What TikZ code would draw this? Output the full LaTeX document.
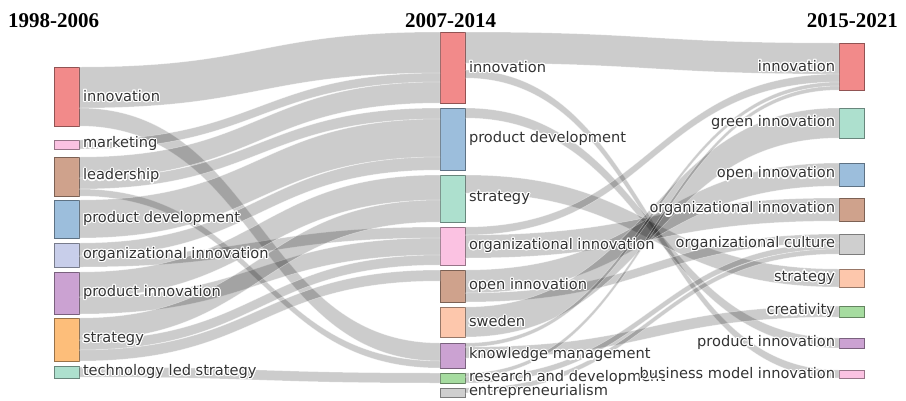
\documentclass[tikz,border=0pt]{standalone}
\usepackage{fontspec}
\setmainfont{DejaVu Sans}
\newfontfamily\titlefont{Liberation Serif}
\usepackage{contour}
\contourlength{1.1pt}
\usetikzlibrary{calc}

\definecolor{cred}{HTML}{F28A8A}
\definecolor{cpink}{HTML}{FBC2E2}
\definecolor{cbrown}{HTML}{CFA28C}
\definecolor{cblue}{HTML}{9CBEDC}
\definecolor{clav}{HTML}{C8CEEA}
\definecolor{cpurple}{HTML}{CBA2D2}
\definecolor{corange}{HTML}{FDBE7A}
\definecolor{cmint}{HTML}{ADE0CE}
\definecolor{cpeach}{HTML}{FDC7AC}
\definecolor{cgreen}{HTML}{A6DCA0}
\definecolor{cgray}{HTML}{CFCFCF}
\definecolor{labelgray}{HTML}{333333}

% a flow node: name, x centre, top, bottom, colour
\newcommand\flownode[5]{%
  \pgfmathsetmacro\hh{#4-#3}\pgfmathsetmacro\yc{(#3+#4)/2}%
  \node[box, fill=#5, draw=#5!60!black, minimum height=\hh pt] (#1) at (#2,\yc) {};}

% a flow band: source, source top/bottom offsets, target, target top/bottom offsets
\newcommand\band[6]{%
  \path[link] let \p1=($(#1.north east)+(0,#2)$), \p2=($(#1.north east)+(0,#3)$),
    \p3=($(#4.north west)+(0,#5)$), \p4=($(#4.north west)+(0,#6)$),
    \n1={0.5*(\x1+\x3)} in
    (\p1) .. controls (\n1,\y1) and (\n1,\y3) .. (\p3) -- (\p4)
    .. controls (\n1,\y4) and (\n1,\y2) .. (\p2) -- cycle;}

\newcommand\labelfont{\fontsize{14.6}{16}\selectfont}
\newcommand\halo[1]{\contour{white}{#1}}

\begin{document}
\begin{tikzpicture}[x=1pt,y=-1pt,
  box/.style={line width=0.8pt, inner sep=0pt, outer sep=0pt, minimum width=25pt},
  lbl/.style={inner sep=0pt, outer sep=0pt, text=labelgray, font=\labelfont},
  lleft/.style={lbl, anchor=west, xshift=4pt},
  lright/.style={lbl, anchor=east, xshift=-4pt},
  link/.style={fill=black, fill opacity=0.2, draw=white, draw opacity=0.45, line width=0.5pt},
  yr/.style={font=\titlefont\bfseries\fontsize{21}{24}\selectfont, inner sep=0pt, text=black}]

\useasboundingbox (0,0) rectangle (906,400);

% column headings
\node[yr, anchor=base west] (h1) at (8,27) {1998-2006};
\node[yr, anchor=base west] (h2) at (405,27) {2007-2014};
\node[yr, anchor=base east] (h3) at (898,27) {2015-2021};

% first period
\flownode{L1}{66.5}{67}{126}{cred}
\flownode{L2}{66.5}{140}{149}{cpink}
\flownode{L3}{66.5}{157}{196}{cbrown}
\flownode{L4}{66.5}{200}{238}{cblue}
\flownode{L5}{66.5}{243}{267}{clav}
\flownode{L6}{66.5}{272}{314}{cpurple}
\flownode{L7}{66.5}{318}{361}{corange}
\flownode{L8}{66.5}{366}{378}{cmint}

% second period
\flownode{M1}{452.5}{32}{103}{cred}
\flownode{M2}{452.5}{108}{170}{cblue}
\flownode{M3}{452.5}{175}{222}{cmint}
\flownode{M4}{452.5}{227}{265}{cpink}
\flownode{M5}{452.5}{270}{302}{cbrown}
\flownode{M6}{452.5}{307}{337}{cpeach}
\flownode{M7}{452.5}{343}{368}{cpurple}
\flownode{M8}{452.5}{373}{383}{cgreen}
\flownode{M9}{452.5}{388}{397}{cgray}

% third period
\flownode{R1}{851.5}{43}{90}{cred}
\flownode{R2}{851.5}{108}{138}{cmint}
\flownode{R3}{851.5}{163}{186}{cblue}
\flownode{R4}{851.5}{198}{221}{cbrown}
\flownode{R5}{851.5}{234}{254}{cgray}
\flownode{R6}{851.5}{269}{287}{cpeach}
\flownode{R7}{851.5}{306}{317}{cgreen}
\flownode{R8}{851.5}{338}{348}{cpurple}
\flownode{R9}{851.5}{370}{378}{cpink}

% bands, first to second period
\band{L1}{0}{41}{M1}{0}{41}
\band{L1}{41}{59}{M7}{0}{18}
\band{L2}{0}{9}{M1}{41}{50}
\band{L3}{0}{21}{M1}{50}{71}
\band{L3}{21}{32}{M2}{0}{11}
\band{L3}{32}{39}{M7}{18}{25}
\band{L4}{0}{38}{M2}{11}{49}
\band{L5}{0}{13}{M2}{49}{62}
\band{L5}{13}{24}{M4}{0}{11}
\band{L6}{0}{25}{M3}{0}{25}
\band{L6}{25}{42}{M4}{11}{28}
\band{L7}{0}{22}{M3}{25}{47}
\band{L7}{22}{32}{M4}{28}{38}
\band{L7}{32}{43}{M5}{0}{11}
\band{L8}{1}{11}{M8}{0}{10}

% bands, second to third period
\band{M1}{0}{31}{R1}{0}{31}
\band{M1}{38}{46}{R9}{0}{8}
\band{M2}{0}{10}{R8}{0}{10}
\band{M3}{0}{18}{R6}{0}{18}
\band{M4}{0}{8}{R1}{31}{39}
\band{M4}{8}{31}{R4}{0}{23}
\band{M5}{0}{23}{R3}{0}{23}
\band{M5}{23}{32}{R5}{0}{9}
\band{M6}{0}{30}{R2}{0}{30}
\band{M7}{0}{4}{R1}{39}{43}
\band{M7}{4}{15}{R7}{0}{11}
\band{M8}{0}{4}{R1}{43}{47}
\band{M8}{4}{10}{R5}{9}{15}
\band{M9}{0}{5}{R5}{15}{20}

% labels
\node[lleft] (L1t) at (L1.east) {\halo{innovation}};
\node[lleft] (L2t) at (L2.east) {\halo{marketing}};
\node[lleft] (L3t) at (L3.east) {\halo{leadership}};
\node[lleft] (L4t) at (L4.east) {\halo{product development}};
\node[lleft] (L5t) at (L5.east) {\halo{organizational innovation}};
\node[lleft] (L6t) at (L6.east) {\halo{product innovation}};
\node[lleft] (L7t) at (L7.east) {\halo{strategy}};
\node[lleft] (L8t) at (L8.east) {\halo{technology led strategy}};

\node[lleft] (M1t) at (M1.east) {\halo{innovation}};
\node[lleft] (M2t) at (M2.east) {\halo{product development}};
\node[lleft] (M3t) at (M3.east) {\halo{strategy}};
\node[lleft] (M4t) at (M4.east) {\halo{organizational innovation}};
\node[lleft] (M5t) at (M5.east) {\halo{open innovation}};
\node[lleft] (M6t) at (M6.east) {\halo{sweden}};
\node[lleft] (M7t) at (M7.east) {\halo{knowledge management}};
\node[lleft] (M8t) at (M8.east) {\halo{research and development}};
\node[lleft] (M9t) at (M9.east) {\halo{entrepreneurialism}};

\node[lright] (R1t) at (R1.west) {\halo{innovation}};
\node[lright] (R2t) at (R2.west) {\halo{green innovation}};
\node[lright] (R3t) at (R3.west) {\halo{open innovation}};
\node[lright] (R4t) at (R4.west) {\halo{organizational innovation}};
\node[lright] (R5t) at (R5.west) {\halo{organizational culture}};
\node[lright] (R6t) at (R6.west) {\halo{strategy}};
\node[lright] (R7t) at (R7.west) {\halo{creativity}};
\node[lright] (R8t) at (R8.west) {\halo{product innovation}};
\node[lright] (R9t) at (R9.west) {\halo{business model innovation}};
\end{tikzpicture}
\end{document}
